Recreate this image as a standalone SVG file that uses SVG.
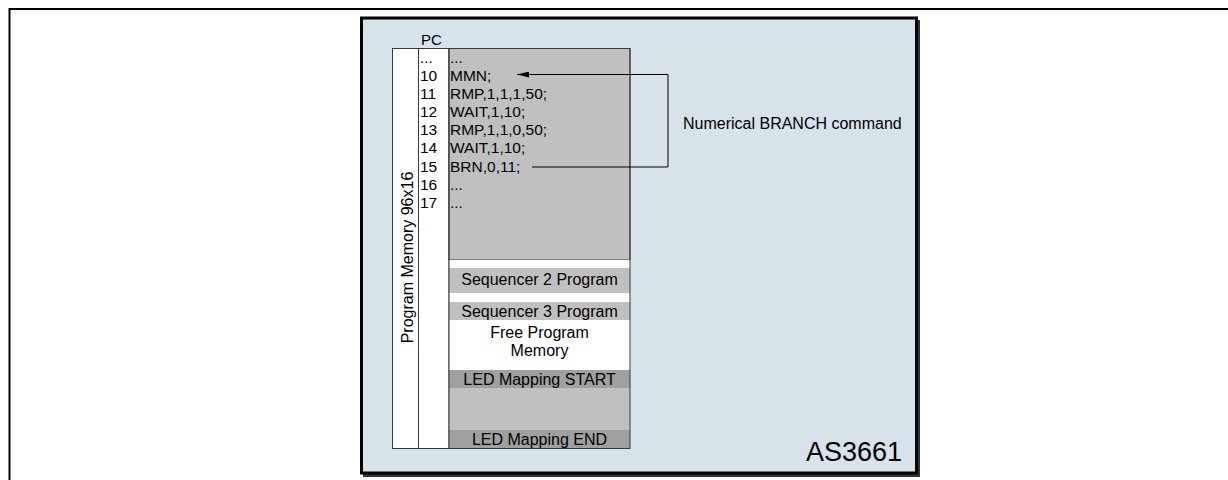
<svg xmlns="http://www.w3.org/2000/svg" width="1228" height="480" viewBox="0 0 1228 480">
<defs>
<style>
text{font-family:"Liberation Sans",Arial,sans-serif;fill:#000}
.row{font-size:15.5px}
.lbl{font-size:16px;text-anchor:middle}
.cell{stroke:#3a3a3a;stroke-width:1}
.conn{stroke:#000;stroke-width:1;fill:none}
</style>
<marker id="ah" markerWidth="12" markerHeight="6" refX="12" refY="3" orient="auto" markerUnits="userSpaceOnUse">
<path d="M0,0 L12,3 L0,6 Z" fill="#000"/>
</marker>
</defs>
<rect width="1228" height="480" fill="#fff"/>
<path d="M9.5,480 V9 H1228" fill="none" stroke="#000" stroke-width="2"/>
<g id="as3661">
<rect x="363" y="20" width="557" height="457" fill="#333"/>
<rect x="361.5" y="18" width="555" height="455" fill="#d6e3ea" stroke="#000" stroke-width="3"/>
<text x="902" y="461" font-size="27" text-anchor="end">AS3661</text>
</g>
<g id="pc-label"><text x="421" y="45" font-size="15">PC</text></g>
<g id="program-memory">
<rect x="392.5" y="48.5" width="26" height="400" fill="#fff" class="cell"/>
<text transform="translate(413,257.5) rotate(-90)" class="lbl">Program Memory 96x16</text>
</g>
<g id="pc-column">
<rect x="418.5" y="48.5" width="30.5" height="400" fill="#fff" class="cell"/>
<text class="row" x="420" y="63">...</text>
<text class="row" x="420" y="81">10</text>
<text class="row" x="420" y="99">11</text>
<text class="row" x="420" y="117">12</text>
<text class="row" x="420" y="135">13</text>
<text class="row" x="420" y="153">14</text>
<text class="row" x="420" y="172">15</text>
<text class="row" x="420" y="190">16</text>
<text class="row" x="420" y="208">17</text>
</g>
<g id="sequencer1">
<rect x="449" y="48.5" width="181" height="211.5" fill="#c0c0c0" class="cell"/>
<text class="row" x="450" y="63">...</text>
<text class="row" x="450" y="81">MMN;</text>
<text class="row" x="450" y="99">RMP,1,1,1,50;</text>
<text class="row" x="450" y="117">WAIT,1,10;</text>
<text class="row" x="450" y="135">RMP,1,1,0,50;</text>
<text class="row" x="450" y="153">WAIT,1,10;</text>
<text class="row" x="450" y="172">BRN,0,11;</text>
<text class="row" x="450" y="190">...</text>
<text class="row" x="450" y="208">...</text>
</g>
<g id="gap1"><rect x="449" y="260" width="181" height="8" fill="#fff"/></g>
<g id="sequencer2">
<rect x="449" y="268" width="181" height="25" fill="#c0c0c0"/>
<text class="lbl" x="539.5" y="285">Sequencer 2 Program</text>
</g>
<g id="gap2"><rect x="449" y="293" width="181" height="9" fill="#fff"/></g>
<g id="sequencer3">
<rect x="449" y="302" width="181" height="18" fill="#c0c0c0"/>
<text class="lbl" x="539.5" y="316.5">Sequencer 3 Program</text>
</g>
<g id="free-memory">
<rect x="449" y="320" width="181" height="50" fill="#fff"/>
<text class="lbl" x="539.5" y="337.5">Free Program</text>
<text class="lbl" x="539.5" y="355.5">Memory</text>
</g>
<g id="led-start">
<rect x="449" y="370" width="181" height="18" fill="#a0a0a0"/>
<text class="lbl" x="539.5" y="385">LED Mapping START</text>
</g>
<g id="led-area"><rect x="449" y="388" width="181" height="42" fill="#c0c0c0"/></g>
<g id="led-end">
<rect x="449" y="430" width="181" height="18.5" fill="#a0a0a0"/>
<text class="lbl" x="539.5" y="445">LED Mapping END</text>
</g>
<rect x="449" y="48.5" width="181" height="400" fill="none" class="cell"/>
<g id="branch-label"><text x="683" y="128.5" font-size="16">Numerical BRANCH command</text></g>
<g id="connectors">
<path class="conn" d="M532,167 H668 V74.5 H517" marker-end="url(#ah)"/>
</g>
</svg>
